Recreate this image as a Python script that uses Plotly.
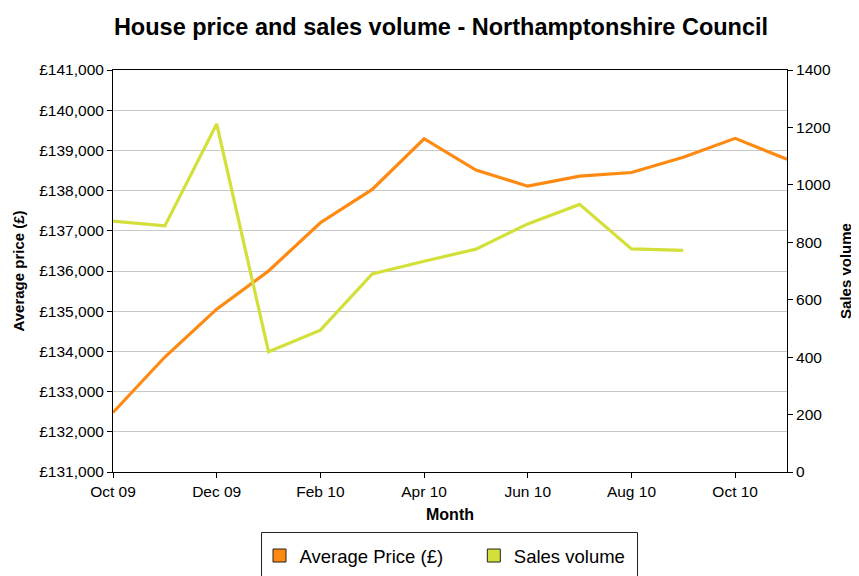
import plotly.graph_objects as go

months = ["Oct 09", "Nov 09", "Dec 09", "Jan 10", "Feb 10", "Mar 10", "Apr 10",
          "May 10", "Jun 10", "Jul 10", "Aug 10", "Sep 10", "Oct 10", "Nov 10"]
avg_price = [132480, 133860, 135050, 136000, 137200, 138030, 139290,
             138510, 138110, 138360, 138450, 138830, 139300, 138780]
sales_volume = [874, 857, 1212, 419, 494, 690, 734,
                776, 864, 932, 777, 772, None, None]
tick_months = months[::2]

ORANGE = "#FF8A12"
GREEN = "#D4E03A"
FONT = "Liberation Sans, Arial, sans-serif"
NB = "\u00a0"

# page has an 8px body margin; figure coordinates are offset accordingly
W, H = 851, 568
L, R, T, B = 105, 72, 62, 104
PW, PH = W - L - R, H - T - B


def px(x):  # figure px -> paper x
    return (x - L) / PW


def py(y):  # figure px -> paper y
    return (H - B - y) / PH


fig = go.Figure()
fig.add_trace(go.Scatter(x=months, y=avg_price, mode="lines", name="Average Price (£)",
                         line=dict(color=ORANGE, width=3.2), showlegend=False, yaxis="y"))
fig.add_trace(go.Scatter(x=months, y=sales_volume, mode="lines", name="Sales volume",
                         line=dict(color=GREEN, width=3.2), showlegend=False, yaxis="y2"))
# legend entries with square swatches
fig.add_trace(go.Scatter(x=[None], y=[None], mode="markers", name="Average Price (£)" + NB * 5,
                         marker=dict(symbol="square", size=13, color=ORANGE,
                                     line=dict(color="#222", width=1))))
fig.add_trace(go.Scatter(x=[None], y=[None], mode="markers", name="Sales volume",
                         marker=dict(symbol="square", size=13, color=GREEN,
                                     line=dict(color="#222", width=1))))

TICK = 15.5
fig.update_layout(
    width=W, height=H,
    paper_bgcolor="white", plot_bgcolor="white",
    font=dict(family=FONT, size=TICK, color="black"),
    margin=dict(l=L, r=R, t=T, b=B, autoexpand=False),
    title=dict(text="<b>House price and sales volume - Northamptonshire Council</b>",
               x=433/W, xanchor="center", y=1 - 19/H, yanchor="middle",
               font=dict(size=23.5, family=FONT, color="black")),
    xaxis=dict(type="category", range=[0, 13], tickvals=tick_months, ticktext=tick_months,
               showline=True, linecolor="black", linewidth=1, mirror=True,
               ticks="outside", ticklen=5, tickcolor="black", showgrid=False,
               tickfont=dict(size=TICK),
               title=dict(text="<b>Month</b>", font=dict(size=16), standoff=10)),
    yaxis=dict(range=[131000, 141000], dtick=1000, tickprefix="£", tickformat=",d",
               showline=True, linecolor="black", linewidth=1,
               ticks="outside", ticklen=5, tickcolor="black",
               showgrid=True, gridcolor="#C8C8C8", gridwidth=1, zeroline=False,
               tickfont=dict(size=TICK),
               title=dict(text="<b>Average price (£)</b>", font=dict(size=15), standoff=10)),
    yaxis2=dict(range=[0, 1400], dtick=200, overlaying="y", side="right",
                showline=True, linecolor="black", linewidth=1,
                ticks="outside", ticklen=5, tickcolor="black",
                showgrid=False, zeroline=False, tickfont=dict(size=TICK),
                title=dict(text="<b>Sales volume</b>", font=dict(size=15), standoff=10)),
    legend=dict(orientation="h", x=px(437), xanchor="center",
                y=py(529), yanchor="top",
                borderwidth=0, bgcolor="rgba(0,0,0,0)",
                itemwidth=30,
                font=dict(size=18.5, family=FONT)),
    shapes=[dict(type="rect", xref="paper", yref="paper",
                 x0=px(253.5), x1=px(629.5), y0=py(524.5), y1=py(600),
                 line=dict(color="#222", width=1), fillcolor="rgba(0,0,0,0)",
                 layer="below")],
)

fig.write_html("out.html")
